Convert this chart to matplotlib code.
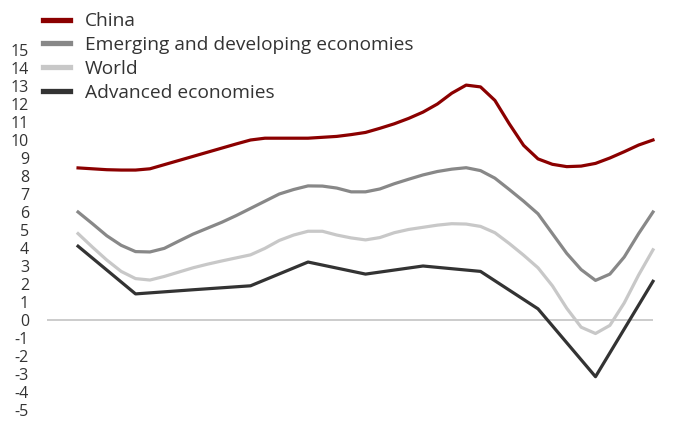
import numpy as np
import matplotlib
matplotlib.use("Agg")
from matplotlib import pyplot as plt

plt.rcParams['font.family'] = ['Open Sans', 'DejaVu Sans']
plt.rcParams['axes.unicode_minus'] = False

# quarterly time axis (years from start), advanced economies annual only
t_q = np.arange(41) / 4.0
t_y = np.arange(11)

china = [8.45, 8.4, 8.35, 8.33, 8.33, 8.4, 8.63, 8.86, 9.09, 9.32, 9.55,
         9.78, 10.0, 10.1, 10.1, 10.1, 10.1, 10.15, 10.2, 10.3, 10.42,
         10.65, 10.9, 11.2, 11.55, 12.0, 12.6, 13.05, 12.95, 12.2, 10.9,
         9.7, 8.95, 8.65, 8.52, 8.55, 8.7, 9.0, 9.35, 9.72, 10.0]
emerging = [6.0, 5.35, 4.68, 4.15, 3.8, 3.78, 3.98, 4.38, 4.77, 5.1, 5.43,
            5.8, 6.2, 6.6, 7.0, 7.25, 7.45, 7.44, 7.33, 7.12, 7.12,
            7.28, 7.57, 7.82, 8.06, 8.25, 8.38, 8.46, 8.3, 7.88, 7.25,
            6.6, 5.9, 4.8, 3.7, 2.8, 2.2, 2.55, 3.5, 4.8, 6.0]
world = [4.8, 4.05, 3.33, 2.7, 2.3, 2.22, 2.42, 2.66, 2.9, 3.1, 3.28,
         3.45, 3.62, 3.98, 4.42, 4.72, 4.93, 4.93, 4.72, 4.56, 4.45,
         4.58, 4.85, 5.03, 5.15, 5.27, 5.35, 5.33, 5.2, 4.85, 4.25,
         3.6, 2.9, 1.9, 0.65, -0.4, -0.75, -0.3, 0.95, 2.5, 3.9]
advanced = [4.1, 1.45, 1.68, 1.9, 3.22, 2.55, 3.0, 2.7, 0.62, -3.15, 2.15]

labels = ["China", "Emerging and developing economies", "World", "Advanced economies"]
colors = ["#8b0000", "#888888", "#c8c8c8", "#333333"]
yticks = list(range(-5, 16))

fig = plt.figure(figsize=(6.86, 4.23), dpi=100)
ax = fig.add_axes([47/686, 13/423, 606/686, 360/423])

ax.axhline(0, color="#c4c4c4", lw=1.2, zorder=1)
series = [(t_q, china), (t_q, emerging), (t_q, world), (t_y, advanced)]
for (t, v), c in zip(series, colors):
    ax.plot(t, v, color=c, lw=2.3, clip_on=False, solid_joinstyle='round')

ax.set_xlim(-0.54, 10)
ax.set_ylim(-5, 15)
ax.set_yticks(yticks)
ax.set_yticklabels([str(v) for v in yticks], fontsize=11.5, color="#333333")
ax.tick_params(axis='y', length=0, pad=13)
ax.set_xticks([])
for s in ax.spines.values():
    s.set_visible(False)

handles = [plt.Line2D([], [], color=c, lw=3.8) for c in colors]
fig.legend(handles, labels, loc="upper left", bbox_to_anchor=(39/686, 1 - 8.5/423),
           frameon=False, fontsize=13.8, handlelength=1.4, handletextpad=0.8,
           labelspacing=0.3, borderaxespad=0.0, borderpad=0.2,
           labelcolor="#333333")

fig.savefig("out.png", dpi=100)
